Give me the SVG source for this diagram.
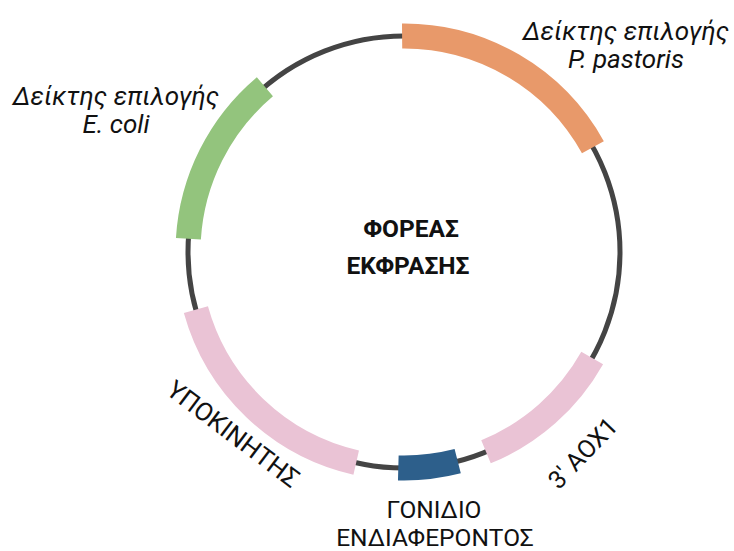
<svg xmlns="http://www.w3.org/2000/svg" width="734" height="551" viewBox="0 0 734 551">
<style>
.seg{fill:none;stroke-width:25;stroke-linecap:butt}
.lbl{font-family:Roboto,"Liberation Sans",sans-serif;font-size:25px;fill:#111;text-anchor:middle}
.it{font-style:italic;font-size:26px}
.bot{font-size:24.5px}
.ttl{font-family:Roboto,"Liberation Sans",sans-serif;font-size:24.5px;font-weight:bold;fill:#111;text-anchor:middle}
</style>
<rect width="734" height="551" fill="#fff"/>
<g id="backbone">
<circle cx="404" cy="252" r="216" fill="none" stroke="#444" stroke-width="5"/>
</g>
<g id="marker-pastoris">
<path class="seg" stroke="#E8996A" d="M402.1,36 A216,216 0 0 1 592.9,147.3"/>
<text class="lbl it" x="626" y="40">Δείκτης επιλογής</text>
<text class="lbl it" x="626" y="68">P. pastoris</text>
</g>
<g id="marker-ecoli">
<path class="seg" stroke="#93C47D" d="M188.4,238.8 A216,216 0 0 1 264.9,86.8"/>
<text class="lbl it" x="116" y="105">Δείκτης επιλογής</text>
<text class="lbl it" x="116" y="133">E. coli</text>
</g>
<g id="promoter">
<path class="seg" stroke="#EAC3D5" d="M356.2,462.6 A216,216 0 0 1 195.9,309.7"/>
<text class="lbl" transform="translate(228,441) rotate(37)" style="font-size:25.5px">ΥΠΟΚΙΝΗΤΗΣ</text>
</g>
<g id="gene">
<path class="seg" stroke="#2D5F8B" d="M457.7,461.2 A216,216 0 0 1 398.3,467.9"/>
<text class="lbl bot" x="434" y="518">ΓΟΝΙΔΙΟ</text>
<text class="lbl bot" x="435" y="546">ΕΝΔΙΑΦΕΡΟΝΤΟΣ</text>
</g>
<g id="aox1">
<path class="seg" stroke="#EAC3D5" d="M592.2,358 A216,216 0 0 1 486,451.8"/>
<text class="lbl" transform="translate(589,459) rotate(-46)">3' AOX1</text>
</g>
<g id="title">
<text class="ttl" x="411" y="237">ΦΟΡΕΑΣ</text>
<text class="ttl" x="408" y="274">ΕΚΦΡΑΣΗΣ</text>
</g>
<g id="connectors"></g>
</svg>
